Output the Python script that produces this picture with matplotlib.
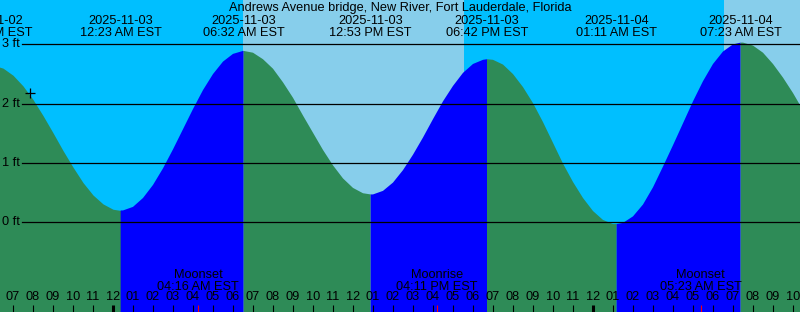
import numpy as np
import matplotlib
matplotlib.use("Agg")
import matplotlib.pyplot as plt
from datetime import datetime

plt.rcParams['font.family'] = ['Liberation Sans', 'DejaVu Sans']

# ---------------- data ----------------
title = "Andrews Avenue bridge, New River, Fort Lauderdale, Florida"
base_time = "2025-11-03 00:00"

# tide level (ft) read every half hour, starting at 2025-11-02 18:00
tide_start_hour = -6.0
tide_ft = [2.65, 2.60, 2.48, 2.30, 2.07, 1.80, 1.51, 1.21, 0.93, 0.67, 0.46, 0.31,
           0.22, 0.20, 0.26, 0.41, 0.63, 0.91, 1.23, 1.57, 1.91, 2.23, 2.50, 2.71,
           2.84, 2.89, 2.86, 2.75, 2.59, 2.36, 2.10, 1.80, 1.51, 1.22, 0.96, 0.74,
           0.58, 0.49, 0.47, 0.53, 0.67, 0.88, 1.14, 1.43, 1.74, 2.04, 2.30, 2.52,
           2.67, 2.74, 2.74, 2.66, 2.50, 2.28, 2.01, 1.69, 1.34, 0.99, 0.68, 0.41,
           0.19, 0.04, -0.03, -0.01, 0.10, 0.30, 0.59, 0.94, 1.30, 1.67, 2.04, 2.38,
           2.67, 2.88, 3.00, 3.03, 2.98, 2.86, 2.67, 2.44, 2.18, 1.89]

# high / low tide events
extreme_times = ["2025-11-02 17:54", "2025-11-03 00:23", "2025-11-03 06:32",
                 "2025-11-03 12:53", "2025-11-03 18:42", "2025-11-04 01:11",
                 "2025-11-04 07:23"]
extreme_ft = [2.65, 0.20, 2.89, 0.47, 2.75, -0.03, 3.03]

# sun (daylight intervals)
day_starts = ["2025-11-03 06:31", "2025-11-04 06:32"]
day_ends = ["2025-11-03 17:34", "2025-11-04 18:00"]

# moon events
moon_times = ["2025-11-03 04:16", "2025-11-03 16:11", "2025-11-04 05:23"]
moon_names = ["Moonset", "Moonrise", "Moonset"]

# current time marker
now_time = "2025-11-02 19:51"
now_ft = 2.18

y_ticks_ft = [0, 1, 2, 3]

# ---------------- helpers ----------------
FMT = "%Y-%m-%d %H:%M"
t0 = datetime.strptime(base_time, FMT)


def hrs(s):
    return (datetime.strptime(s, FMT) - t0).total_seconds() / 3600.0


W, H = 800, 312
x_left_h = -5.65
px_per_h = 20.0
x_right_h = x_left_h + W / px_per_h
zero_px = 222.3
px_per_ft = 59.3
y_bot = (zero_px - H) / px_per_ft
y_top = zero_px / px_per_ft


def yf(px):  # pixel from top -> axes fraction
    return 1 - px / H


NIGHT = "#00BFFF"
DAY = "#87CEEB"
RISE = "#0000FF"
FALL = "#2E8B57"
FS = 9.2

fig = plt.figure(figsize=(W / 100, H / 100), dpi=100)
ax = fig.add_axes([0, 0, 1, 1])
ax.set_xlim(x_left_h, x_right_h)
ax.set_ylim(y_bot, y_top)
ax.axis("off")
ax.add_patch(plt.Rectangle((0, 0), 1, 1, transform=ax.transAxes,
                           facecolor=NIGHT, edgecolor="none", zorder=0))

for s, e in zip(day_starts, day_ends):
    ax.axvspan(hrs(s), hrs(e), color=DAY, lw=0, zorder=1)

# tide curve
th = tide_start_hour + 0.5 * np.arange(len(tide_ft))
eh = np.array([hrs(s) for s in extreme_times])
all_h = np.concatenate([th, eh])
all_v = np.concatenate([np.array(tide_ft), np.array(extreme_ft)])
order = np.argsort(all_h, kind="stable")
all_h = all_h[order]
all_v = all_v[order]

bounds = [all_h[0] - 1] + list(eh) + [all_h[-1] + 1]
for i in range(len(bounds) - 1):
    a, b = bounds[i], bounds[i + 1]
    m = (all_h >= a) & (all_h <= b)
    if m.sum() < 2:
        continue
    if i == 0:
        rising = extreme_ft[0] > all_v[m][0]
    elif i == len(bounds) - 2:
        rising = extreme_ft[-1] < all_v[m][-1]
    else:
        rising = extreme_ft[i] > extreme_ft[i - 1]
    ax.fill_between(all_h[m], y_bot - 1, all_v[m], color=RISE if rising else FALL,
                    lw=0, zorder=2)

# ft grid lines
for v in y_ticks_ft:
    ax.axhline(v, xmin=22 / W, xmax=1, color="black", lw=0.9, zorder=3)
    ax.text(2 / W, v, f"{v} ft", transform=ax.get_yaxis_transform(),
            ha="left", va="center", fontsize=FS, zorder=5)

# title
ax.text(0.5, yf(8.5), title, transform=ax.transAxes, ha="center", va="center",
        fontsize=FS, zorder=5)

# extreme labels
for s in extreme_times:
    d = datetime.strptime(s, FMT)
    h = hrs(s)
    ax.text(h, yf(20.5), d.strftime("%Y-%m-%d"), transform=ax.get_xaxis_transform(),
            ha="center", va="center", fontsize=FS, zorder=5)
    ax.text(h, yf(32.5), d.strftime("%I:%M %p EST"), transform=ax.get_xaxis_transform(),
            ha="center", va="center", fontsize=FS, zorder=5)

# hour ticks + labels
for h in range(int(np.ceil(x_left_h)), int(np.floor(x_right_h)) + 1):
    hh = h % 12
    lab = f"{12 if hh == 0 else hh:02d}"
    ax.text(h, yf(297.5), lab, transform=ax.get_xaxis_transform(), ha="center",
            va="center", fontsize=FS, zorder=5)
    ax.vlines(h, 0, yf(305), transform=ax.get_xaxis_transform(), color="black",
              lw=2.2 if h % 24 == 0 else 0.8, zorder=4)

# moon events
for s, name in zip(moon_times, moon_names):
    d = datetime.strptime(s, FMT)
    h = hrs(s)
    ax.text(h, yf(275), name, transform=ax.get_xaxis_transform(), ha="center",
            va="center", fontsize=FS, zorder=5)
    ax.text(h, yf(286.5), d.strftime("%I:%M %p EST"), transform=ax.get_xaxis_transform(),
            ha="center", va="center", fontsize=FS, zorder=5)
    ax.vlines(h, 0, yf(305), transform=ax.get_xaxis_transform(), color="red",
              lw=0.8, zorder=4)

# now marker
ax.plot([hrs(now_time)], [now_ft], marker="+", color="black", markersize=7,
        markeredgewidth=0.9, zorder=5)

fig.savefig("out.png", dpi=100)
